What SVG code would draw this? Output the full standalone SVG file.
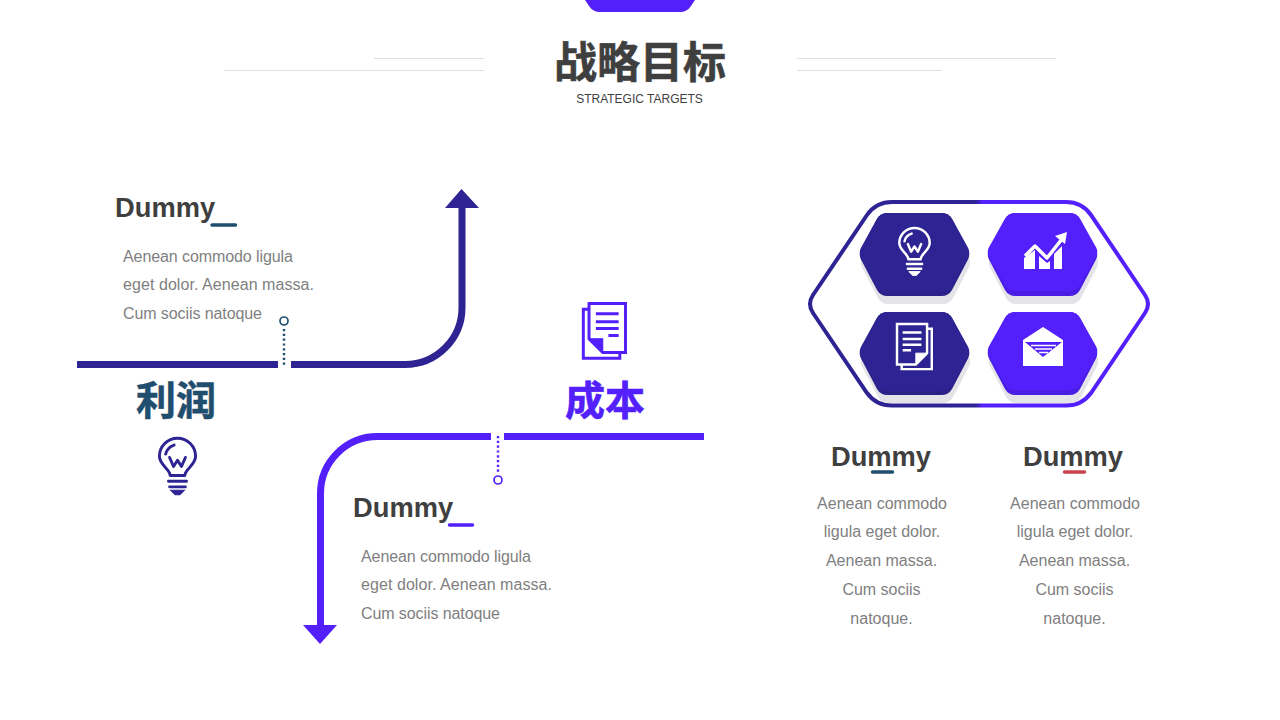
<svg xmlns="http://www.w3.org/2000/svg" width="1280" height="720" viewBox="0 0 1280 720">
<style>
text{font-family:"Liberation Sans",Arial,"Noto Sans CJK SC",sans-serif}
.cjk{font-family:"Noto Sans CJK SC","Liberation Sans",sans-serif;font-weight:700;stroke-width:.6}
.h{font-size:27.3px;font-weight:700;fill:#3f3f3f}
.b{font-size:16px;fill:#808080}
.m{text-anchor:middle}
.rule{stroke:#dfdfdf;stroke-width:1;fill:none}
.wire{fill:none;stroke-width:7}
.dark{stroke:#2e2392}.vio{stroke:#5320fb}
.dots{fill:none;stroke-width:2.400;stroke-dasharray:2.200 2.600}
.ring{fill:#fff;stroke-width:1.700}
.ul{stroke-width:3.500;stroke-linecap:round}
.ic{fill:none;stroke-width:2.600;stroke-linecap:round;stroke-linejoin:round}
.pg{fill:none;stroke-width:2.600;stroke-linejoin:miter}
</style>
<defs>
<linearGradient id="split" gradientUnits="userSpaceOnUse" x1="807" y1="0" x2="1151" y2="0">
<stop offset="0" stop-color="#2e2392"/><stop offset=".49" stop-color="#2e2392"/><stop offset=".51" stop-color="#5320fb"/><stop offset="1" stop-color="#5320fb"/>
</linearGradient>
<path id="hex" d="M-27 -41.500H27Q34 -41.500 37.500 -35.500L53.500 -5Q56 0 53.500 5L37.500 35.500Q34 41.500 27 41.500H-27Q-34 41.500 -37.500 35.500L-53.500 5Q-56 0 -53.500 -5L-37.500 -35.500Q-34 -41.500 -27 -41.500Z"/>
<g id="bulb">
<path class="ic" d="M-6.500 15C-6.500 9 -16 6 -16 -2A16 16 0 1 1 16 -2C16 6 6.500 9 6.500 15Z"/>
<path class="ic" d="M-10.500 -4A11 11 0 0 1 -3 -12M-7 -1L-3.500 7L0 1.500L3.500 7L7 -1"/>
<path class="ic" d="M-8 20H8M-7 25H7"/>
<path d="M-6 28H6L2 32H-2Z" fill="currentColor" stroke="currentColor"/>
</g>
<g id="doc">
<path class="pg" d="M20 43H0V0H32V31Z"/>
<path class="pg" d="M32 5H37V48H5V43"/>
<path class="pg" stroke-width="3" d="M6 9H26M6 16H26M6 22H26M6 28H15"/>
<path d="M20 43V31H32Z" fill="currentColor" stroke="currentColor" stroke-linejoin="round"/>
</g>
</defs>

<g id="top-tab"><path d="M585 0H695L691 6Q687 12 680 12H600Q593 12 589 6Z" fill="#5320fb"/></g>

<g id="title">
<path class="rule" d="M374 58.500H484M224 70.500H484M797 58.500H1056M797 70.500H942"/>
<text class="cjk m" x="640" y="78" font-size="43" fill="#3f3f3f" stroke="#3f3f3f">战略目标</text>
<text class="m" x="639.500" y="103" font-size="12" fill="#3f3f3f">STRATEGIC TARGETS</text>
</g>

<g id="connectors">
<path class="wire dark" d="M77 364.500H278M291 364.500H405A57 57 0 0 0 462 307.500V205"/>
<path d="M461.500 189L479 208H445Z" fill="#2e2392"/>
<path class="dots" stroke="#1f4e6e" d="M284 329V367"/>
<circle class="ring" stroke="#1f4e6e" cx="284" cy="321" r="4"/>
<path class="wire vio" d="M704 436.500H504M491 436.500H378A57 57 0 0 0 320.500 494V628"/>
<path d="M320 644L303 625H337Z" fill="#5320fb"/>
<path class="dots" stroke="#5320fb" d="M498 436V472"/>
<circle class="ring" stroke="#5320fb" cx="498" cy="480" r="4"/>
</g>

<g id="profit-block">
<text class="h" x="115" y="217">Dummy</text>
<path class="ul" stroke="#1f4e6e" d="M212 225H235.500"/>
<text class="b" x="123" y="262" textLength="170">Aenean commodo ligula</text>
<text class="b" x="123" y="290" textLength="191">eget dolor. Aenean massa.</text>
<text class="b" x="123" y="319" textLength="139">Cum sociis natoque</text>
<text class="cjk m" x="176" y="415" font-size="40" fill="#1f4e6e" stroke="#1f4e6e">利润</text>
<use href="#bulb" transform="translate(177.500 458.600) scale(1.130)" stroke="#2e2392" color="#2e2392"/>
</g>

<g id="cost-block">
<use href="#doc" transform="translate(625.500 303.500) scale(-1.140 1.140)" stroke="#5320fb" color="#5320fb"/>
<text class="cjk m" x="605" y="415" font-size="40" fill="#5320fb" stroke="#5320fb">成本</text>
<text class="h" x="353" y="517">Dummy</text>
<path class="ul" stroke="#5320fb" d="M449.500 525H472.500"/>
<text class="b" x="361" y="562" textLength="170">Aenean commodo ligula</text>
<text class="b" x="361" y="590" textLength="191">eget dolor. Aenean massa.</text>
<text class="b" x="361" y="619" textLength="139">Cum sociis natoque</text>
</g>

<g id="hex-frame"><path d="M892 202H1066Q1082 202 1091 215L1145 295Q1151 304 1145 313L1091 393Q1082 405.500 1066 405.500H892Q876 405.500 867 393L813 313Q807 304 813 295L867 215Q876 202 892 202Z" fill="none" stroke="url(#split)" stroke-width="4"/></g>

<g id="hex-bulb">
<use href="#hex" transform="translate(915.500 262.500)" fill="#e4e4e8"/>
<use href="#hex" transform="translate(914.500 254.500)" fill="#2b2189"/>
<use href="#hex" transform="translate(914.500 252.500) scale(1 .95)" fill="#2e2392"/>
<use href="#bulb" transform="translate(914.500 245) scale(.950)" stroke="#fff" color="#fff"/>
</g>

<g id="hex-chart">
<use href="#hex" transform="translate(1043.500 262.500)" fill="#e4e4e8"/>
<use href="#hex" transform="translate(1042.500 254.500)" fill="#4a1de4"/>
<use href="#hex" transform="translate(1042.500 252) scale(1 .94)" fill="#5320fb"/>
<path d="M1024 258L1035 250V269H1024ZM1039 256L1047 263L1050 261V269H1039ZM1054 254L1062 246V269H1054Z" fill="#fff"/>
<path d="M1025 256L1035 246L1047 258L1062 239" fill="none" stroke="#fff" stroke-width="3.500" stroke-linejoin="round"/>
<path d="M1055 236L1067 232L1065 244Z" fill="#fff"/>
</g>

<g id="hex-doc">
<use href="#hex" transform="translate(915.500 361.500)" fill="#e4e4e8"/>
<use href="#hex" transform="translate(914.500 353.500)" fill="#2b2189"/>
<use href="#hex" transform="translate(914.500 351.500) scale(1 .95)" fill="#2e2392"/>
<use href="#doc" transform="translate(897 324) scale(.940)" stroke="#fff" color="#fff"/>
</g>

<g id="hex-mail">
<use href="#hex" transform="translate(1043.500 361.500)" fill="#e4e4e8"/>
<use href="#hex" transform="translate(1042.500 353.500)" fill="#4a1de4"/>
<use href="#hex" transform="translate(1042.500 351) scale(1 .94)" fill="#5320fb"/>
<path d="M1023 340L1043 327L1063 340V366H1023Z" fill="#fff"/>
<path d="M1025 342H1062L1043 357Z" fill="#5320fb"/>
<path d="M1031 345.500H1056M1035 349H1052M1039 352.500H1048" stroke="#fff" stroke-width="1.500"/>
</g>

<g id="col-left">
<text class="h m" x="881" y="466">Dummy</text>
<path class="ul" stroke="#1f4e6e" d="M872.500 472H892.500"/>
<text class="b m" x="882" y="509">Aenean commodo</text>
<text class="b m" x="882" y="537">ligula eget dolor.</text>
<text class="b m" x="881.500" y="566">Aenean massa.</text>
<text class="b m" x="881.500" y="595">Cum sociis</text>
<text class="b m" x="881.500" y="624">natoque.</text>
</g>

<g id="col-right">
<text class="h m" x="1073" y="466">Dummy</text>
<path class="ul" stroke="#c9434f" d="M1064.500 472H1084.500"/>
<text class="b m" x="1075" y="509">Aenean commodo</text>
<text class="b m" x="1075" y="537">ligula eget dolor.</text>
<text class="b m" x="1074.500" y="566">Aenean massa.</text>
<text class="b m" x="1074.500" y="595">Cum sociis</text>
<text class="b m" x="1074.500" y="624">natoque.</text>
</g>
</svg>
